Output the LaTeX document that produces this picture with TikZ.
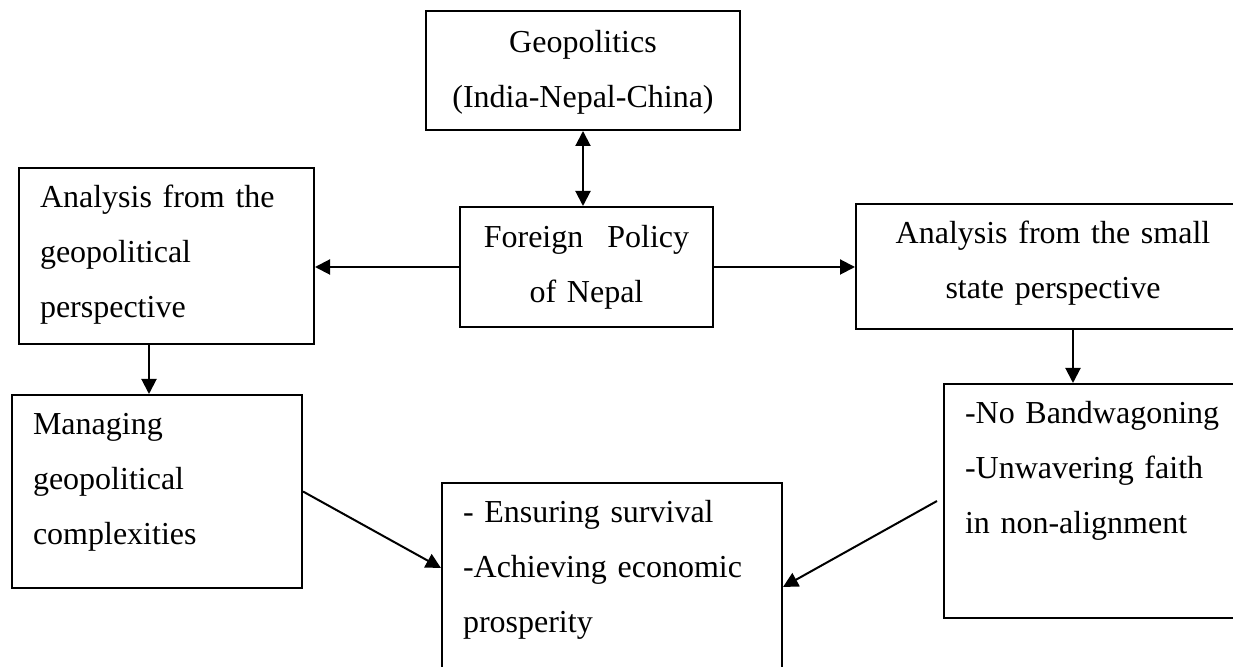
\documentclass[tikz,border=0pt]{standalone}
\usepackage{fontspec}
\setmainfont{Liberation Serif}
\usetikzlibrary{arrows.meta}
\begin{document}
\begin{tikzpicture}[x=0.5pt,y=-0.5pt,
    >={Triangle[length=7.5pt,width=7.5pt]},
    box/.style={draw,line width=1pt,anchor=north west,inner xsep=10.5pt,inner ysep=0pt,
        font=\fontsize{16}{27.5}\selectfont},
    arr/.style={line width=1pt,->}]
\useasboundingbox (0,0) rectangle (1233,667);
\clip (0,0) rectangle (1233,667);

% Top and centre boxes
\node[box,align=center,text width=136pt,text height=21pt,text depth=38.5pt] (geo) at (425,10)
    {Geopolitics\\(India-Nepal-China)};
\node[box,align=center,text width=105.5pt,text height=20.5pt,text depth=39.5pt] (fp) at (459,206)
    {Foreign\hspace{0.75em}Policy\\of Nepal};

% Two perspectives
\node[box,align=left,text width=126.5pt,text height=20pt,text depth=68pt] (geoA) at (18,167)
    {Analysis from the\\geopolitical\\perspective};
\node[box,align=center,text width=176pt,text height=20pt,text depth=42.5pt] (ssA) at (855,203)
    {Analysis from the small\\state perspective};

% Lower boxes
\node[box,align=left,text width=124pt,text height=20pt,text depth=76.5pt] (mgmt) at (11,394)
    {Managing\\geopolitical\\complexities};
\node[box,align=left,text width=134pt,text height=20pt,text depth=97pt] (nb) at (943,383)
    {-No Bandwagoning\\-Unwavering faith\\in non-alignment};
\node[box,align=left,text width=149pt,text height=20pt,text depth=89pt] (goal) at (441,482)
    {- Ensuring survival\\-Achieving economic\\prosperity};

% Connectors
\draw[arr,<->] (geo.south) -- (geo.south |- fp.north);
\draw[arr] (fp.west) -- (fp.west -| geoA.east);
\draw[arr] (fp.east) -- (fp.east -| ssA.west);
\draw[arr] ([xshift=65.5pt]geoA.south west) -- ([xshift=65.5pt]geoA.south west |- mgmt.north);
\draw[arr] ([xshift=109pt]ssA.south west) -- ([xshift=109pt]ssA.south west |- nb.north);
\draw[arr] (mgmt.east) -- ([yshift=-43pt]goal.north west);
\draw[arr] ([xshift=-3pt]nb.west) -- ([yshift=-52.5pt]goal.north east);
\end{tikzpicture}
\end{document}
